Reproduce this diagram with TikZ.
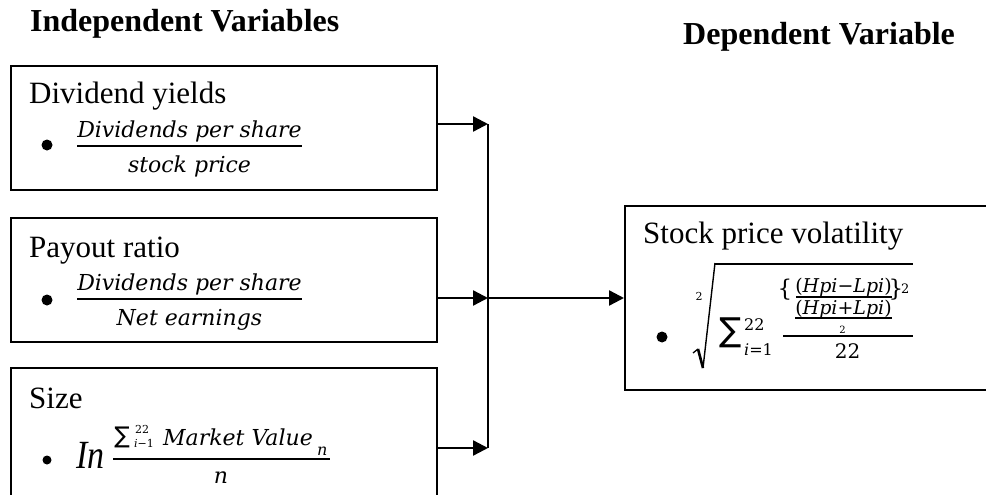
\documentclass[tikz,border=0pt]{standalone}
\usepackage{fontspec}
\usepackage{graphicx}
\setmainfont{Liberation Serif}
\newfontfamily\mfont{DejaVu Serif}
\newfontfamily\sfont{DejaVu Sans}
\usetikzlibrary{arrows.meta}
\begin{document}
\begin{tikzpicture}[x=1pt,y=-1pt,
  box/.style={draw, line width=1.8pt, minimum width=426pt, minimum height=124pt, anchor=north west, inner sep=0pt},
  conn/.style={line width=2.4pt, -{Triangle[length=15pt,width=15pt]}},
  bus/.style={line width=2.4pt},
  ttl/.style={font=\fontsize{32}{36}\selectfont\bfseries, anchor=base west, inner sep=0pt},
  lbl/.style={font=\fontsize{31}{36}\selectfont, anchor=base west, inner sep=0pt},
  mt/.style={font=\mfont\itshape\fontsize{22}{24}\selectfont, anchor=base, inner sep=0pt},
  sm/.style={font=\mfont\fontsize{#1}{#1}\selectfont, inner sep=0pt},
  fbar/.style={line width=2.8pt}]
\useasboundingbox (0,0) rectangle (986,495);
\clip (0,0) rectangle (986,495);
% titles
\node[ttl] (tind) at (30,32) {Independent Variables};
\node[ttl] (tdep) at (683,45) {Dependent Variable};
% boxes
\node[box] (b1) at (10,65) {};
\node[box] (b2) at (10,217) {};
\node[box, minimum height=150pt] (b3) at (10,367) {};
\node[box, minimum width=400pt, minimum height=184pt] (dv) at (624,205) {};
% connectors
\coordinate (j1) at (488,124);
\coordinate (j2) at (488,298);
\coordinate (j3) at (488,448);
\draw[conn] (b1.east |- j1) -- (j1);
\draw[conn] (b2.east |- j2) -- (j2);
\draw[conn] (b3.east |- j3) -- (j3);
\draw[bus] (j1) -- (j3);
\draw[conn] (j2) -- (dv.west |- j2);
% box 1
\node[lbl] (l1) at (29,103) {Dividend yields};
\fill (47,145) circle (5.5pt);
\node[mt] (n1) at (189.5,137) {Dividends per share};
\draw[fbar] (77,146) -- (302,146);
\node[mt] (d1) at (189.5,172) {stock price};
% box 2
\node[lbl] (l2) at (29,257) {Payout ratio};
\fill (47,300) circle (5.5pt);
\node[mt] (n2) at (189.5,290) {Dividends per share};
\draw[fbar] (77,299) -- (302,299);
\node[mt] (d2) at (189.5,325) {Net earnings};
% box 3
\node[lbl] (l3) at (29,408) {Size};
\fill (47,460) circle (4.5pt);
\node[anchor=base west, inner sep=0pt, font=\fontsize{40}{44}\selectfont\itshape] (ln) at (76,468) {\scalebox{0.85}[1]{In}};
\node[font=\sfont\fontsize{23}{24}\selectfont, inner sep=0pt] (s3) at (122,437) {∑};
\node[sm=11, anchor=base west] (s3u) at (135,433) {22};
\node[sm=11, anchor=base west] (s3l) at (134,447) {\textit{i}−1};
\node[mt, anchor=base west] (mv) at (163,445) {Market Value};
\node[sm=16, anchor=base west] (mvn) at (317,455) {\textit{n}};
\draw[fbar] (113,459) -- (330,459);
\node[mt] (d3) at (221,483) {n};
% dependent box
\node[lbl] (l4) at (643,243) {Stock price volatility};
\fill (662,337) circle (5.5pt);
\node[sm=11] (ri) at (699,296) {2};
\draw[line width=1.3pt] (693,353) -- (698,349);
\draw[line width=2.6pt] (698,349) -- (703,368);
\draw[line width=1.4pt] (703,368) -- (715,263);
\draw[line width=2.6pt] (714.5,264) -- (913,264);
\node[font=\sfont\fontsize{33}{34}\selectfont, inner sep=0pt] (s4) at (731,333) {∑};
\node[sm=16, anchor=base west] (s4u) at (744,330) {22};
\node[sm=16, anchor=base west] (s4l) at (744,355) {\textit{i}=1};
\node[sm=23] (lb) at (785,290) {\{};
\node[sm=19, anchor=base] (hm) at (843.5,292) {(\textit{Hpi}−\textit{Lpi})};
\draw[line width=1.8pt] (796,297) -- (892,297);
\node[sm=19, anchor=base] (hp) at (843.5,314) {(\textit{Hpi}+\textit{Lpi})};
\node[sm=23] (rb) at (896,290) {\}};
\node[sm=13, anchor=base west] (sq) at (901,293) {2};
\draw[line width=2pt] (795,318) -- (892,318);
\node[sm=10, anchor=base] (two) at (842.5,333) {2};
\draw[line width=2.6pt] (783,336) -- (913,336);
\node[sm=20, anchor=base] (tt) at (847.5,358) {22};
\end{tikzpicture}
\end{document}
